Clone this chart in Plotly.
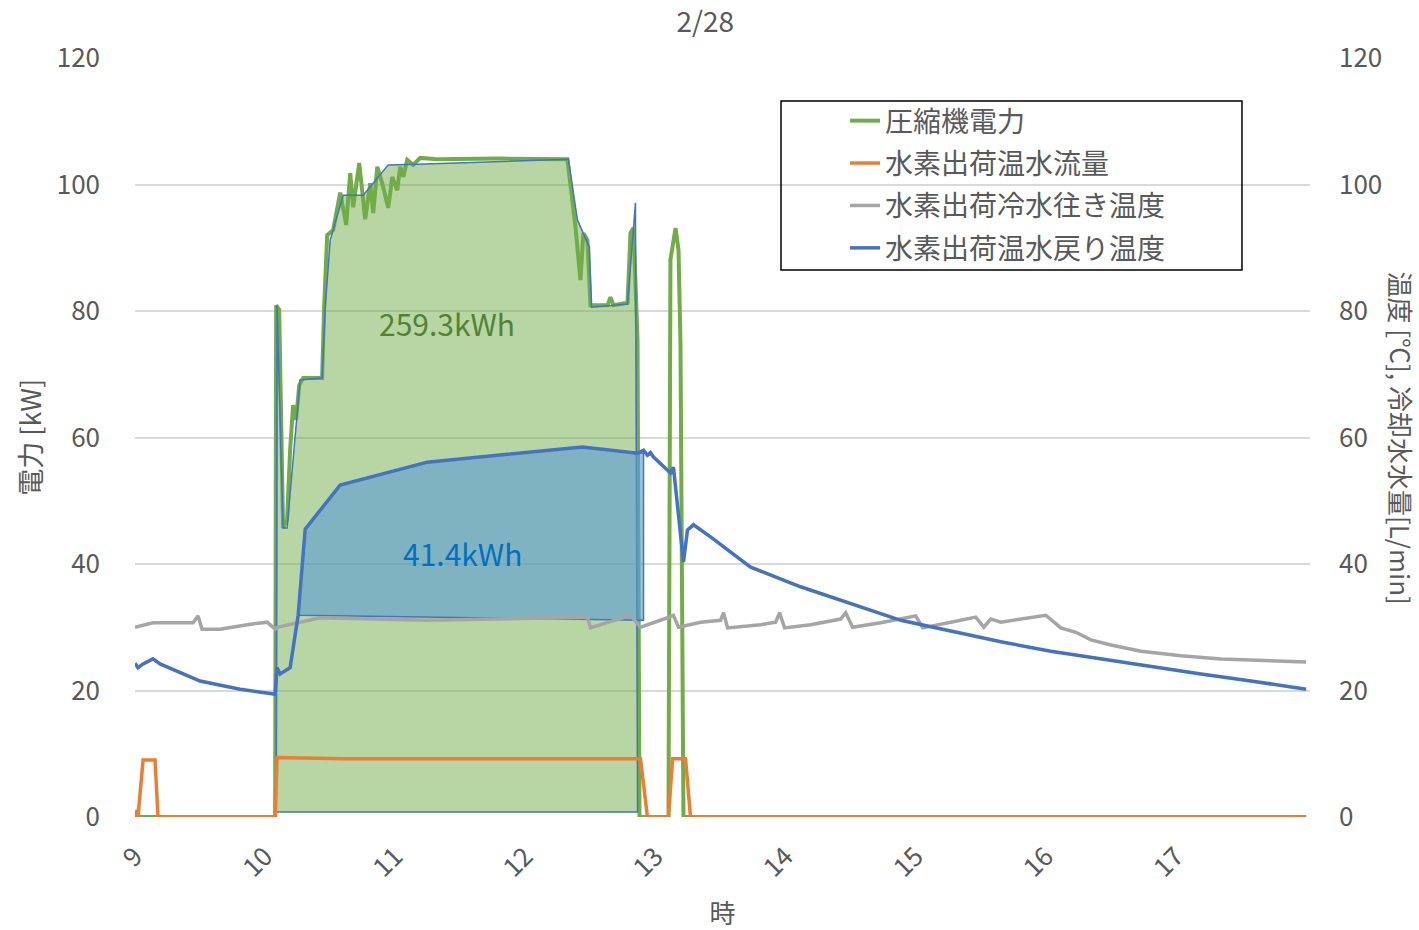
import plotly.graph_objects as go

# 時刻 [h] と各系列の値
comp_x = [9.0, 10.077, 10.085, 10.108, 10.138, 10.169, 10.192, 10.215, 10.238, 10.262, 10.292,
          10.438, 10.454, 10.477, 10.523, 10.577, 10.623, 10.654, 10.677, 10.723, 10.769, 10.808,
          10.831, 10.862, 10.9, 10.946, 10.977, 11.015, 11.038, 11.062, 11.092, 11.138, 11.192,
          11.323, 11.8, 12.323, 12.385, 12.423, 12.446, 12.477, 12.5, 12.631, 12.654, 12.677,
          12.785, 12.808, 12.831, 12.862, 12.877, 13.1, 13.115, 13.154, 13.177, 13.192, 13.215, 18.0]
comp_kw = [0, 0, 80.9, 80.2, 45.7, 47, 58, 65.1, 62.8, 68.3, 69.4,
           69.4, 80.9, 92.0, 92.8, 98.7, 93.6, 101.8, 96.4, 103.4, 94.5, 100.2,
           95.5, 102.8, 100.2, 96.3, 101.2, 99.1, 102.8, 101.2, 103.9, 103.1, 104.2,
           104.0, 104.1, 104.0, 93.3, 84.9, 92.3, 91.2, 80.9, 80.9, 82.2, 80.9,
           81.3, 92.3, 93.1, 75.4, 0, 0, 88.1, 93.1, 89.6, 75, 0, 0]

flow_x = [9.0, 9.023, 9.062, 9.154, 9.177, 10.077, 10.092, 10.6, 11.5, 12.885, 12.938,
          13.1, 13.131, 13.231, 13.269, 18.0]
flow_lpm = [1.1, 0, 9.0, 9.0, 0, 0, 9.4, 9.2, 9.2, 9.2, 0, 0, 9.2, 9.2, 0, 0]

cold_x = [9.0, 9.138, 9.446, 9.485, 9.515, 9.654, 9.862, 10.015, 10.077, 10.092, 10.423,
          11.246, 12.477, 12.5, 12.808, 12.885, 13.092, 13.138, 13.177, 13.346, 13.5, 13.523,
          13.554, 13.808, 13.923, 13.954, 13.992, 14.192, 14.423, 14.462, 14.515, 14.731,
          15.0, 15.054, 15.269, 15.462, 15.523, 15.577, 15.654, 16.0, 16.115, 16.231,
          16.346, 16.5, 16.731, 17.038, 17.346, 17.654, 18.0]
cold_temp = [30.0, 30.7, 30.7, 31.8, 29.7, 29.7, 30.4, 30.8, 29.7, 30.0, 31.5,
             31.1, 31.6, 29.9, 31.9, 30.0, 31.5, 31.9, 30.0, 30.8, 31.1, 32.3,
             29.9, 30.4, 30.8, 32.3, 29.9, 30.4, 31.3, 32.3, 30.0, 30.7,
             31.8, 29.9, 30.8, 31.6, 30.0, 31.3, 30.8, 31.9, 29.9, 29.2,
             28.0, 27.2, 26.2, 25.5, 25.0, 24.7, 24.5]

ret_x = [9.0, 9.023, 9.062, 9.138, 9.192, 9.5, 9.808, 10.077, 10.092, 10.115, 10.192,
         10.254, 10.308, 10.577, 11.246, 12.438, 12.862, 12.908, 12.938, 12.962, 12.985,
         13.115, 13.138, 13.169, 13.215, 13.246, 13.292, 13.423, 13.731, 14.115, 14.5,
         14.885, 15.269, 15.654, 16.038, 16.423, 16.808, 17.192, 17.577, 18.0]
ret_temp = [24.3, 23.6, 24.2, 25.0, 24.2, 21.5, 20.2, 19.4, 23.6, 22.6, 23.6,
            31.9, 45.5, 52.5, 56.1, 58.5, 57.5, 58.0, 57.2, 57.6, 56.9,
            54.4, 55.3, 49.6, 40.3, 45.4, 46.2, 44.3, 39.5, 36.4, 33.7,
            31.1, 29.4, 27.7, 26.2, 25.0, 23.7, 22.6, 21.5, 20.2]

# 積算エリア（多角形）
area_comp_x = [10.085, 10.092, 10.138, 10.169, 10.269, 10.438, 10.462, 10.5, 10.6, 10.754,
               10.946, 11.169, 12.331, 12.4, 12.492, 12.508, 12.785, 12.846, 12.862, 10.085]
area_comp_y = [0.8, 80.9, 45.7, 45.7, 69.1, 69.4, 80.6, 91.2, 98.3, 98.3,
               103.1, 103.2, 104.0, 94.4, 90.1, 80.6, 81.1, 97.1, 0.8, 0.8]
area_heat_x = [10.254, 10.308, 10.577, 11.246, 12.438, 12.862, 12.908, 12.908, 10.254]
area_heat_y = [31.9, 45.5, 52.5, 56.1, 58.5, 57.5, 57.5, 31.1, 31.9]

x_ticks = [9, 10, 11, 12, 13, 14, 15, 16, 17]
y_ticks = [0, 20, 40, 60, 80, 100, 120]

FONT = "Noto Sans CJK JP"
GREY = "#595959"

fig = go.Figure()
fig.add_trace(go.Scatter(x=comp_x, y=comp_kw, mode="lines", name="圧縮機電力",
                         line=dict(color="#70ad47", width=4), legendgroup="a"))
fig.add_trace(go.Scatter(x=flow_x, y=flow_lpm, mode="lines", name="水素出荷温水流量",
                         line=dict(color="#ed7d31", width=3.5), yaxis="y2", legendgroup="b"))
fig.add_trace(go.Scatter(x=cold_x, y=cold_temp, mode="lines", name="水素出荷冷水往き温度",
                         line=dict(color="#a5a5a5", width=3.5), yaxis="y2", legendgroup="c"))
fig.add_trace(go.Scatter(x=ret_x, y=ret_temp, mode="lines", name="水素出荷温水戻り温度",
                         line=dict(color="#4472c4", width=3.5), yaxis="y2", legendgroup="d"))

# エリアは線の上に重ねる
fig.add_trace(go.Scatter(x=area_comp_x, y=area_comp_y, mode="lines", fill="toself",
                         fillcolor="rgba(112,173,71,0.5)", line=dict(color="#4472c4", width=1.5),
                         showlegend=False, hoverinfo="skip", legendgroup="e"))
fig.add_trace(go.Scatter(x=area_heat_x, y=area_heat_y, mode="lines", fill="toself",
                         fillcolor="rgba(91,155,213,0.6)", line=dict(color="#4472c4", width=1.5),
                         showlegend=False, hoverinfo="skip", legendgroup="f"))

fig.add_annotation(x=11.4, y=78.1, text="259.3kWh", showarrow=False,
                   font=dict(size=30, color="#548235", family=FONT))
fig.add_annotation(x=11.515, y=41.7, text="41.4kWh", showarrow=False,
                   font=dict(size=30, color="#0070c0", family=FONT))

fig.add_annotation(xref="paper", yref="paper", x=-0.09, y=0.5, xanchor="center", yanchor="middle",
                   text="電力 [kW]", textangle=-90,
                   showarrow=False, font=dict(size=27, color=GREY, family=FONT))
fig.add_annotation(xref="paper", yref="paper", x=1.0775, y=0.5, xanchor="center", yanchor="middle",
                   text="温度 [℃], 冷却水水量[L/min]",
                   textangle=90, showarrow=False, font=dict(size=26, color=GREY, family=FONT))

# 凡例の枠
fig.add_shape(type="rect", xref="paper", yref="paper", x0=0.5498, x1=0.9421, y0=0.7207, y1=0.9433,
              line=dict(color="black", width=1.5), fillcolor="rgba(0,0,0,0)")

fig.update_layout(
    width=1419, height=930,
    margin=dict(l=135, r=109, t=58, b=113, autoexpand=False),
    plot_bgcolor="white", paper_bgcolor="white",
    font=dict(family=FONT, color=GREY, size=26),
    title=dict(text="2/28", x=0.497, xanchor="center", y=0.976, yanchor="middle",
               font=dict(size=28, color=GREY, family=FONT)),
    showlegend=True,
    legend=dict(x=0.6043, y=0.950, xanchor="left", yanchor="top", bgcolor="rgba(0,0,0,0)",
                borderwidth=0, font=dict(size=28, color=GREY, family=FONT),
                tracegroupgap=3, traceorder="grouped"),
    xaxis=dict(range=[9, 18.03], tickvals=x_ticks, ticktext=[str(t) for t in x_ticks],
               tickangle=-45, showgrid=False, zeroline=False, showline=False,
               ticklabelstandoff=18, automargin=False,
               title=dict(text="時", font=dict(size=26, color=GREY), standoff=26),
               tickfont=dict(size=26, color=GREY)),
    yaxis=dict(range=[0, 120], tickvals=y_ticks, showgrid=True, gridcolor="#d9d9d9", gridwidth=1.5,
               zeroline=False, showline=False, ticklabelstandoff=34, automargin=False,
               tickfont=dict(size=26, color=GREY)),
    yaxis2=dict(range=[0, 120], tickvals=y_ticks, overlaying="y", side="right", showgrid=False,
                zeroline=False, showline=False, ticklabelstandoff=28, automargin=False,
                tickfont=dict(size=26, color=GREY)),
)

fig.write_html("out.html", config={"displayModeBar": False},
               post_script="document.body.style.margin='0';")
